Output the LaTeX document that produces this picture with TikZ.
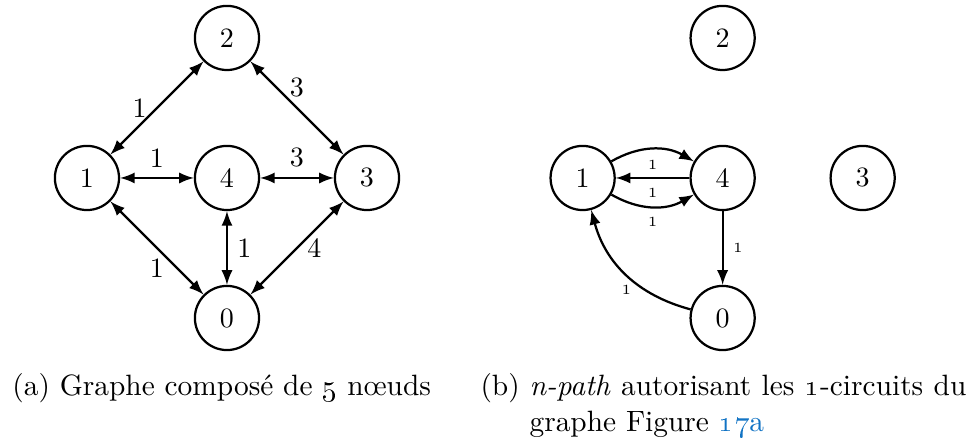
\documentclass[tikz,border=0pt]{standalone}
\usepackage{amsmath}
\usepackage{xcolor}
\usetikzlibrary{arrows, positioning}
\definecolor{linkblue}{RGB}{17,115,196}

\begin{document}
\begin{tikzpicture}[
    x=50pt, y=50pt, >=latex,
    vertex/.style={circle, draw, thick, minimum size=22.9pt, inner sep=0pt},
    link/.style={thick},
    small/.style={font=\tiny},
    caption/.style={anchor=base west, inner sep=0pt, font=\fontsize{10.5}{13.2}\selectfont}
]
\useasboundingbox (-0.621, 1.271) rectangle (6.321, -1.9);
% (a) the whole graph
\node[vertex] (a1) at (0, 0) {1};
\node[vertex] (a4) at (1, 0) {4};
\node[vertex] (a3) at (2, 0) {3};
\node[vertex] (a2) at (1, 1) {2};
\node[vertex] (a0) at (1, -1) {0};
\draw[link, <->] (a1) -- node[left] {1} (a2);
\draw[link, <->] (a2) -- node[above] {3} (a3);
\draw[link, <->] (a1) -- node[above] {1} (a4);
\draw[link, <->] (a4) -- node[above] {3} (a3);
\draw[link, <->] (a1) -- node[below] {1} (a0);
\draw[link, <->] (a4) -- node[right] {1} (a0);
\draw[link, <->] (a3) -- node[right] {4} (a0);
% (b) n-path
\node[vertex] (b1) at (3.54, 0) {1};
\node[vertex] (b4) at (4.54, 0) {4};
\node[vertex] (b3) at (5.54, 0) {3};
\node[vertex] (b2) at (4.54, 1) {2};
\node[vertex] (b0) at (4.54, -1) {0};
\draw[link, ->] (b1) to[bend left=30] node[below, small] {1} (b4);
\draw[link, ->] (b4) -- node[below, small] {1} (b1);
\draw[link, ->] (b1) to[bend right=30] node[below, small] {1} (b4);
\draw[link, ->] (b4) -- node[right, small] {1} (b0);
\draw[link, ->] (b0) to[bend left=30] node[below, small] {1} (b1);
% captions
\node[caption] (capa) at (-0.536, -1.55) {(a) Graphe composé de \oldstylenums{5} nœuds};
\node[caption] (capb) at (2.807, -1.55)
    {(b)\ \parbox[t]{156pt}{\hyphenpenalty=10000
     \emph{n-path} autorisant les \oldstylenums{1}-circuits du\linebreak graphe Figure
     \textcolor{linkblue}{\oldstylenums{17}a}}};
\end{tikzpicture}
\end{document}
